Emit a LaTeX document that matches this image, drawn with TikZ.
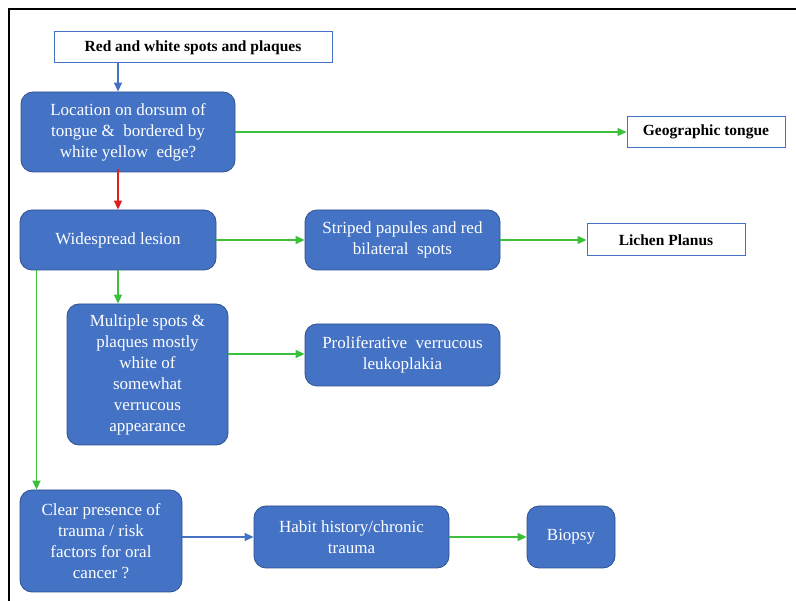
\documentclass[tikz,border=0pt]{standalone}
\usepackage{fontspec}
\setmainfont{Liberation Serif}
\usetikzlibrary{arrows.meta,calc}
\definecolor{boxblue}{HTML}{4472C4}
\definecolor{boxedge}{HTML}{2F528F}
\definecolor{arrgreen}{HTML}{3CC03C}
\definecolor{arrred}{HTML}{E02020}
\definecolor{arrblue}{HTML}{4472C4}
\tikzset{
  bluebox/.style={draw=boxedge, line width=0.8pt, fill=boxblue, rounded corners=12pt,
    text=white, align=center, inner sep=2pt, font=\fontsize{17}{21}\selectfont},
  whitebox/.style={draw=arrblue, line width=1pt, fill=white, align=center,
    inner sep=2pt, font=\fontsize{15.5}{19}\selectfont\bfseries},
  tip/.style={-{Triangle[length=9pt,width=8pt]}, line width=1.4pt},
  garrow/.style={tip, draw=arrgreen, fill=arrgreen},
  rarrow/.style={tip, draw=arrred, fill=arrred},
  barrow/.style={tip, draw=arrblue, fill=arrblue}
}
\begin{document}
\begin{tikzpicture}[x=1pt,y=-1pt]
\useasboundingbox (0,0) rectangle (796,601);
\fill[white] (0,0) rectangle (796,601);
\draw[line width=2pt] (9,640) -- (9,9) -- (820,9);

\node[whitebox, minimum width=278pt, minimum height=31pt] (top) at (193,47.5) {Red and white spots and plaques};
\node[bluebox, minimum width=214pt, minimum height=80pt] (loc) at (128,132) {Location on dorsum of\\tongue \&\ \ bordered by\\white yellow\ \ edge?};
\node[whitebox, minimum width=158pt, minimum height=31pt] (geo) at (706,132) {Geographic tongue};
\node[bluebox, minimum width=196pt, minimum height=60pt] (wide) at (118,240) {Widespread lesion};
\node[bluebox, minimum width=195pt, minimum height=60pt] (striped) at (402.5,240) {Striped papules and red\\bilateral\ \ spots};
\node[whitebox, minimum width=158pt, minimum height=32pt] (lichen) at (666,240) {Lichen Planus};
\node[bluebox, minimum width=161pt, minimum height=141pt] (mult) at (147.5,374.5) {Multiple spots \&\\plaques mostly\\white of\\somewhat\\verrucous\\appearance};
\node[bluebox, minimum width=195pt, minimum height=62pt] (prolif) at (402.5,355) {Proliferative\ \ verrucous\\leukoplakia};
\node[bluebox, minimum width=162pt, minimum height=102pt] (clear) at (101,541) {Clear presence of\\trauma / risk\\factors for oral\\cancer ?};
\node[bluebox, minimum width=195pt, minimum height=62pt] (habit) at (351.5,537) {Habit history/chronic\\trauma};
\node[bluebox, minimum width=88pt, minimum height=62pt] (biopsy) at (571,537) {Biopsy};

\draw[barrow] (top.south -| wide.north) -- (loc.north -| wide.north);
\draw[garrow] (loc.east) -- (geo.west);
\draw[rarrow] ([yshift=3pt]loc.south -| wide.north) -- (wide.north);
\draw[garrow] (wide.east) -- (striped.west);
\draw[garrow] (striped.east) -- (lichen.west);
\draw[garrow] (wide.south) -- (wide.south |- mult.north);
\draw[garrow] (mult.east |- 0,354) -- (prolif.west |- 0,354);
\coordinate (lft) at (36.5,0 |- wide.south);
\draw[garrow] (lft) -- (lft |- clear.north);
\draw[barrow] (clear.east |- habit.west) -- (habit.west);
\draw[garrow] (habit.east) -- (biopsy.west);
\end{tikzpicture}
\end{document}
